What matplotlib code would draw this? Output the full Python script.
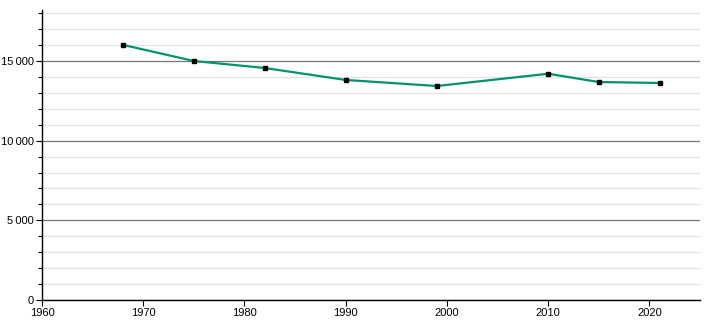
import matplotlib.pyplot as plt
from matplotlib.ticker import FuncFormatter, MultipleLocator

years = [1968, 1975, 1982, 1990, 1999, 2010, 2015, 2021]
population = [16010, 15000, 14560, 13810, 13430, 14200, 13680, 13620]

plt.rcParams['font.family'] = ['Liberation Sans', 'DejaVu Sans']

fig = plt.figure(figsize=(7.1, 3.2), dpi=100)
ax = fig.add_axes([42 / 710, 20 / 320, 658 / 710, 290 / 320])

ax.plot(years, population, color='#00936b', lw=1.6, zorder=3)
ax.plot(years, population, 's', color='black', ms=3.3, zorder=4)

ax.set_xlim(1960, 2025)
ax.set_ylim(0, 18200)

ax.xaxis.set_major_locator(MultipleLocator(10))
ax.yaxis.set_major_locator(MultipleLocator(5000))
ax.yaxis.set_minor_locator(MultipleLocator(1000))
ax.yaxis.set_major_formatter(FuncFormatter(lambda v, p: f"{int(v):,}".replace(",", "\u2009")))

ax.grid(axis='y', which='major', color='#777777', lw=0.9, zorder=1)
ax.grid(axis='y', which='minor', color='#e2e2e2', lw=0.9, zorder=0)

for s in ['top', 'right']:
    ax.spines[s].set_visible(False)
for s in ['left', 'bottom']:
    ax.spines[s].set_color('black')
    ax.spines[s].set_linewidth(1.0)

ax.tick_params(axis='both', which='major', labelsize=8, length=4, width=0.8, pad=2)
ax.tick_params(axis='y', which='minor', length=3, width=0.8)

fig.savefig('out.png', dpi=100)
